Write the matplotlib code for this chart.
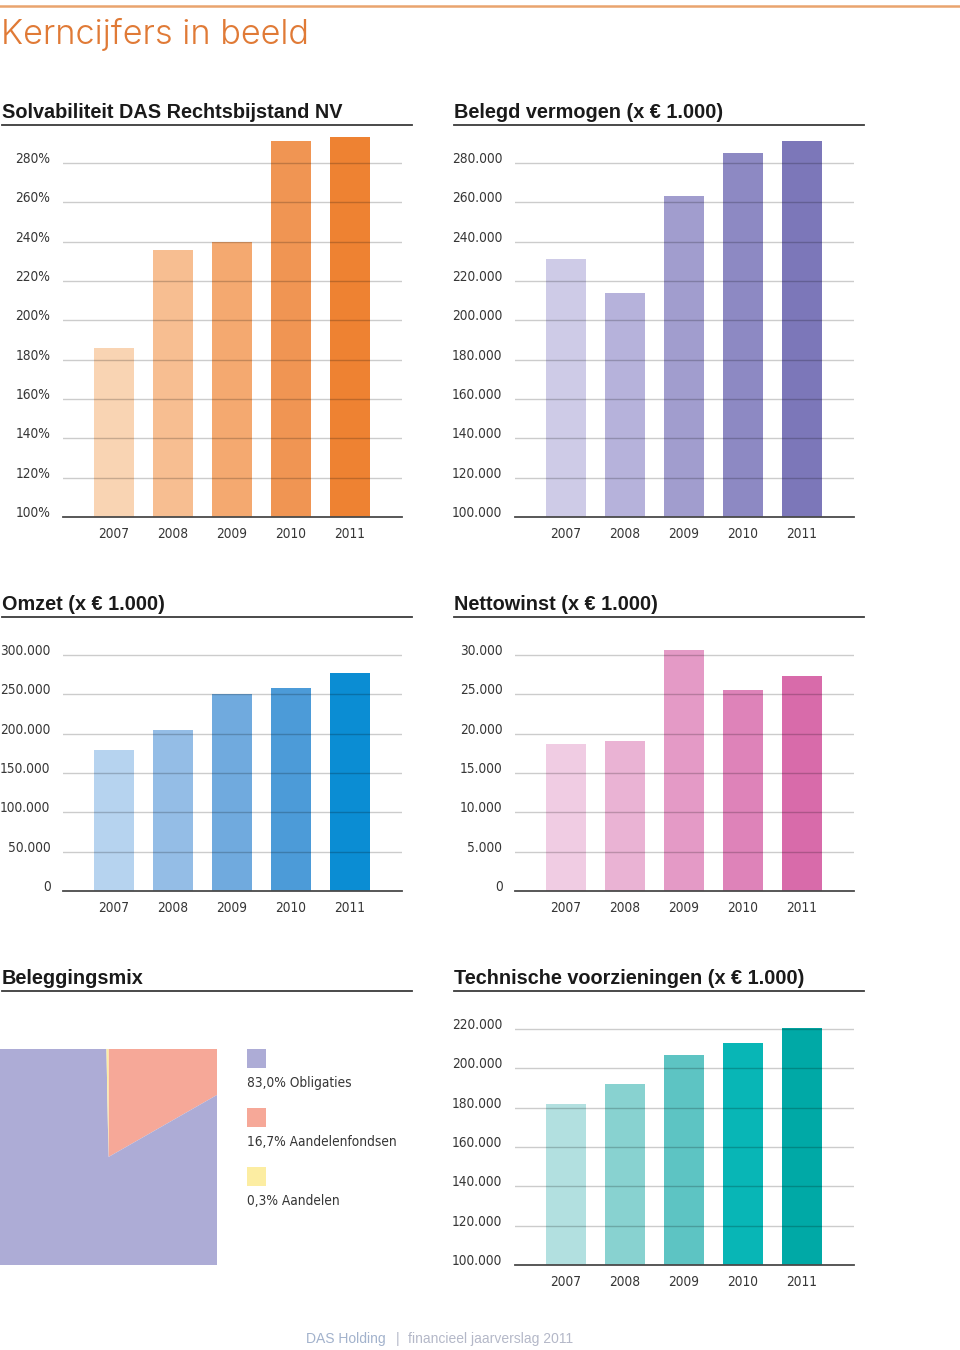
import matplotlib
matplotlib.use("Agg")
import matplotlib.pyplot as plt
from matplotlib.lines import Line2D
from matplotlib.patches import Rectangle

# ---------------- data ----------------
years = ["2007", "2008", "2009", "2010", "2011"]

solv_values = [186, 236, 240, 291, 293]                       # %
solv_ticks = [100, 120, 140, 160, 180, 200, 220, 240, 260, 280]
solv_colors = ["#F9D4B3", "#F7BE91", "#F4A970", "#F09553", "#EE8232"]

belegd_values = [231000, 214000, 263000, 285000, 291000]
belegd_ticks = [100000, 120000, 140000, 160000, 180000, 200000, 220000, 240000, 260000, 280000]
belegd_colors = ["#CECBE7", "#B6B2DB", "#A19DCE", "#8D89C3", "#7C77B9"]

omzet_values = [179000, 205000, 250000, 258000, 277000]
omzet_ticks = [0, 50000, 100000, 150000, 200000, 250000, 300000]
omzet_colors = ["#B6D3EF", "#94BDE6", "#70AADE", "#4C9BD8", "#0B8DD3"]

netto_values = [18700, 19100, 30600, 25500, 27300]
netto_ticks = [0, 5000, 10000, 15000, 20000, 25000, 30000]
netto_colors = ["#F0CCE3", "#EAB3D4", "#E49AC6", "#DE83B9", "#D86BAA"]

techn_values = [182000, 192000, 207000, 213000, 220500]
techn_ticks = [100000, 120000, 140000, 160000, 180000, 200000, 220000]
techn_colors = ["#B2E0E0", "#88D2D0", "#5DC4C3", "#08B6B6", "#00A9A6"]

mix_labels = ["Obligaties", "Aandelenfondsen", "Aandelen"]
mix_values = [83.0, 16.7, 0.3]
mix_colors = ["#ADACD6", "#F6A898", "#FCEDA2"]

titles = ["Solvabiliteit DAS Rechtsbijstand NV", "Belegd vermogen (x € 1.000)",
          "Omzet (x € 1.000)", "Nettowinst (x € 1.000)",
          "Beleggingsmix", "Technische voorzieningen (x € 1.000)"]

# ---------------- figure ----------------
W, H = 960, 1350
fig = plt.figure(figsize=(W / 100, H / 100), dpi=100)
fig.patch.set_facecolor("white")

TICKFONT = "DejaVu Sans"
TICKSTRETCH = "condensed"
TITLEFONT = "Liberation Sans"
TXT = "#363636"
TICKSIZE = 9.8


def fx(x):
    return x / W


def fy(y):
    return 1 - y / H


def px_axes(x0, x1, ytop, ybot):
    return fig.add_axes([fx(x0), fy(ybot), (x1 - x0) / W, (ybot - ytop) / H])


def nl(v):
    return f"{v:,.0f}".replace(",", ".")


def bar_chart(x0, x1, ybase, ytop, ticks, values, colors, fmt):
    ax = px_axes(x0, x1, ytop, ybase)
    step = ticks[1] - ticks[0]
    ppu = 39.33 / step
    ymin = ticks[0]
    ymax = ymin + (ybase - ytop) / ppu
    ax.set_ylim(ymin, ymax)
    ax.set_xlim(-51 / 59, 4 + 52 / 59)
    ax.bar(range(len(values)), values, width=40 / 59, color=colors, zorder=1)
    for t in ticks[1:]:
        ax.axhline(t, color="black", alpha=0.2, lw=1.0, zorder=3)
    for s in ["top", "right", "left"]:
        ax.spines[s].set_visible(False)
    ax.spines["bottom"].set_color("#4a4a4a")
    ax.spines["bottom"].set_linewidth(1.3)
    ax.spines["bottom"].set_zorder(4)
    ax.set_yticks(ticks, [fmt(t) for t in ticks])
    ax.set_xticks(range(len(years)), years)
    ax.tick_params(axis="y", length=0, pad=9, labelsize=TICKSIZE, labelcolor=TXT)
    ax.tick_params(axis="x", length=0, pad=7, labelsize=TICKSIZE, labelcolor=TXT)
    for lab in ax.get_yticklabels() + ax.get_xticklabels():
        lab.set_fontfamily(TICKFONT)
        lab.set_fontstretch(TICKSTRETCH)
    for lab in ax.get_yticklabels():
        lab.set_verticalalignment("baseline")
    ax.set_facecolor("none")
    return ax


def section_title(x, y, text, x1):
    fig.text(fx(x), fy(y), text, fontsize=14.3, fontweight="bold",
             family=TITLEFONT, color="#1a1a1a", va="center", ha="left")
    fig.add_artist(Line2D([fx(x), fx(x1)], [fy(y + 13), fy(y + 13)],
                          color="#3a3a3a", lw=1.3))


# top orange rule and main title
fig.add_artist(Line2D([0, 1], [fy(6), fy(6)], color="#E9A46E", lw=1.8))
fig.text(fx(1), fy(34), "Kerncijfers in beeld", fontsize=24.7, family="Inter",
         fontweight=300, color="#E07A36", va="center", ha="left")

# section titles
section_title(2, 112, titles[0], 412)
section_title(454, 112, titles[1], 864)
section_title(2, 604, titles[2], 412)
section_title(454, 604, titles[3], 864)
section_title(2, 978, titles[4], 412)
section_title(454, 978, titles[5], 864)

# bar charts
bar_chart(63, 402, 517, 133, solv_ticks, solv_values, solv_colors,
          lambda t: f"{t}%")
bar_chart(515, 854, 517, 133, belegd_ticks, belegd_values, belegd_colors, nl)
bar_chart(63, 402, 891, 640, omzet_ticks, omzet_values, omzet_colors, nl)
bar_chart(515, 854, 891, 640, netto_ticks, netto_values, netto_colors, nl)
bar_chart(515, 854, 1265, 1018, techn_ticks, techn_values, techn_colors, nl)

# pie (clipped to a square)
pax = px_axes(0, 217, 1049, 1265)
order = [1, 0, 2]
pax.pie([mix_values[i] for i in order], colors=[mix_colors[i] for i in order],
        startangle=90, counterclock=False, radius=3.0,
        wedgeprops=dict(clip_on=True, linewidth=0))
pax.set_aspect("auto")
pax.set_xlim(-1, 1)
pax.set_ylim(-1, 1)
pax.axis("off")
pax.patch.set_visible(False)

# pie legend
for i, (lab, val, col) in enumerate(zip(mix_labels, mix_values, mix_colors)):
    ytop = 1049 + i * 59
    fig.add_artist(Rectangle((fx(247), fy(ytop + 19)), 19 / W, 19 / H,
                             facecolor=col, edgecolor="none",
                             transform=fig.transFigure))
    txt = f"{val:.1f}".replace(".", ",") + "% " + lab
    fig.text(fx(247), fy(ytop + 34), txt, fontsize=TICKSIZE, family=TICKFONT,
             fontstretch=TICKSTRETCH, color=TXT, va="center", ha="left")

# footer
fig.text(fx(306), fy(1339), "DAS Holding", fontsize=10, family="Liberation Sans",
         color="#A2B2CC", va="center", ha="left")
fig.text(fx(396), fy(1339), "|", fontsize=10, family="Liberation Sans",
         color="#B4B8C8", va="center", ha="left")
fig.text(fx(408), fy(1339), "financieel jaarverslag 2011", fontsize=10,
         family="Liberation Sans", color="#B4B8C8", va="center", ha="left")

fig.savefig("out.png", dpi=100, facecolor="white")
